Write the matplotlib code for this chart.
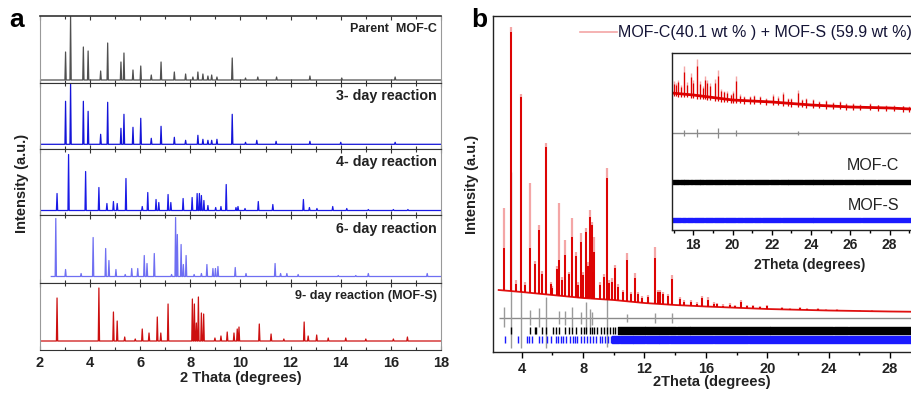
import numpy as np
import matplotlib.pyplot as plt
from matplotlib.ticker import MultipleLocator
from matplotlib.lines import Line2D

plt.rcParams['font.family'] = ['Liberation Sans', 'DejaVu Sans']

W, H = 912, 393

# ---------------- panel a: peak lists ----------------
strip_names = ["Parent  MOF-C", "3- day reaction", "4- day reaction",
               "6- day reaction", "9- day reaction (MOF-S)"]
strip_colors = ["#505050", "#1414d8", "#1a1ae6", "#6f6ff2", "#cc1010"]
strip_start = [2.0, 2.0, 2.0, 2.45, 2.0]
strip_base = [3.0, 4.7, 4.5, 6.5, 9.0]

parent_pos = [3.02, 3.22, 3.73, 3.92, 4.42, 4.70, 5.23, 5.35, 5.71, 6.02, 6.44, 6.83,
              7.36, 7.81, 8.10, 8.30, 8.50, 8.70, 8.85, 9.06, 9.67, 10.20, 10.69,
              11.44, 12.77, 14.04, 16.17]
parent_hts = [28, 64, 33, 29, 9, 37, 18, 27, 10, 14, 5, 18,
              8, 6, 3, 8, 6, 4, 5, 3, 22, 2, 3,
              3, 4, 2, 3]

day3_pos = [3.02, 3.22, 3.73, 3.92, 4.42, 4.70, 5.23, 5.35, 5.71, 6.02, 6.44, 6.83,
            7.36, 7.81, 8.30, 8.50, 8.70, 8.85, 9.06, 9.67, 10.20, 10.65, 11.42,
            12.77, 14.00, 16.17]
day3_hts = [43, 61, 43, 33, 10, 42, 16, 30, 17, 26, 6, 18,
            7, 4, 9, 5, 4, 4, 5, 30, 2, 4, 3,
            3, 2, 2]

day4_pos = [2.68, 3.14, 3.82, 4.35, 4.67, 4.93, 5.08, 5.43, 6.08, 6.30, 6.63, 6.74,
            7.11, 7.22, 7.71, 8.07, 8.27, 8.36, 8.44, 8.54, 8.70, 9.01, 9.22, 9.43,
            9.82, 9.90, 10.18, 10.71, 11.29, 12.51, 12.75, 13.05, 13.68, 14.24,
            15.10, 16.10, 16.68]
day4_hts = [17, 56, 39, 23, 7, 9, 7, 32, 4, 18, 11, 8,
            16, 8, 12, 13, 17, 17, 15, 10, 5, 3, 4, 26,
            3, 4, 2, 9, 6, 11, 3, 2, 4, 2,
            1, 1, 1]

day6_pos = [2.63, 3.02, 3.64, 4.12, 4.62, 4.75, 5.03, 5.40, 5.66, 5.90, 6.16, 6.27,
            6.56, 7.25, 7.41, 7.48, 7.63, 7.72, 7.83, 8.15, 8.44, 8.66, 8.90, 9.00,
            9.10, 9.79, 10.22, 11.38, 11.60, 11.85, 12.30, 13.90, 14.60, 15.10, 17.45]
day6_hts = [58, 7, 3, 39, 28, 16, 7, 2, 8, 8, 21, 13,
            23, 2, 59, 42, 32, 12, 21, 2, 3, 12, 8, 8,
            10, 9, 3, 13, 3, 3, 2, 1, 1, 3, 3]

day9_pos = [2.68, 4.35, 4.93, 5.08, 5.38, 5.80, 6.08, 6.35, 6.68, 6.82, 7.11, 8.08,
            8.16, 8.24, 8.32, 8.44, 8.53, 8.98, 9.22, 9.47, 9.74, 9.87, 9.94, 10.75,
            11.22, 11.73, 12.54, 12.70, 13.04, 13.50, 14.20, 15.00, 16.10, 16.66]
day9_hts = [43, 53, 29, 20, 4, 2, 12, 8, 24, 8, 37, 42,
            37, 18, 44, 28, 27, 3, 5, 9, 8, 12, 14, 17,
            7, 2, 19, 5, 6, 3, 3, 2, 2, 4]

strip_pos = [parent_pos, day3_pos, day4_pos, day6_pos, day9_pos]
strip_hts = [parent_hts, day3_hts, day4_hts, day6_hts, day9_hts]

# ---------------- panel b: refinement ----------------
bg_x = [2.5, 4, 6, 8, 10, 12, 14, 16, 20, 24, 28, 31]
bg_y = [62, 60, 57, 54, 52, 49, 47, 45.5, 43, 41.5, 40.5, 40]

pk_pos = [2.85, 3.32, 3.60, 3.97, 4.20, 4.54, 4.85, 5.13, 5.30, 5.60, 5.91, 6.00,
          6.28, 6.43, 6.60, 6.80, 7.08, 7.28, 7.54, 7.70, 7.88, 8.00, 8.21, 8.35,
          8.45, 8.56, 8.65, 8.73, 9.10, 9.36, 9.58, 9.70, 9.88, 10.10, 10.30, 10.60,
          10.88, 11.10, 11.38, 11.60, 11.86, 12.20, 12.66, 12.90, 13.00, 13.18, 13.50,
          13.81, 14.31, 14.60, 15.00, 15.40, 15.77, 16.16, 16.50, 16.74, 17.10, 17.57,
          17.90, 18.29, 18.70, 19.09, 19.50, 19.96, 20.94, 21.50, 22.13, 22.60, 23.32,
          23.80, 24.52, 25.20, 26.04, 26.80, 27.56, 28.50]
pk_obs = [144, 325, 72, 258, 70, 169, 91, 127, 81, 209, 70, 66,
          86, 149, 75, 112, 80, 134, 100, 70, 119, 80, 124, 90,
          142, 130, 85, 115, 70, 78, 184, 72, 74, 87, 68, 62,
          99, 60, 79, 60, 56, 57, 105, 62, 62, 60, 58,
          77, 55, 52, 52, 50, 56, 55, 50, 49, 48, 49,
          47, 52, 47, 47, 46, 47, 45, 44, 45, 44, 44,
          43, 43, 42, 42, 42, 41.5, 41]
pk_calc = [104, 320, 68, 255, 67, 104, 88, 122, 78, 205, 68, 64,
           83, 92, 72, 97, 78, 115, 96, 67, 110, 77, 120, 86,
           135, 127, 80, 100, 67, 75, 174, 69, 70, 84, 65, 60,
           92, 58, 74, 58, 54, 55, 94, 60, 60, 58, 56,
           73, 53, 50, 50, 48, 54, 52, 48, 48, 46, 47,
           46, 50, 46, 46, 45, 46, 44.5, 43.5, 44, 43.5, 43,
           42.5, 42.5, 41.5, 41.5, 41.5, 41, 40.5]

diff_level = 33.7
diff_pos = [2.85, 3.32, 3.97, 4.54, 5.13, 5.60, 6.43, 6.80, 7.28, 7.88, 8.21,
            8.45, 8.56, 9.58, 10.88, 12.66, 13.81]
diff_hi = [45, 180, 62, 42, 44, 55, 41, 41, 45, 40, 50, 43, 40, 60, 38, 39, 39]
diff_lo = [25, 4, 4, 27, 25, 4, 28, 27, 25, 28, 20, 25, 27, 5, 30, 29, 29]

mofc_pos = [3.32, 4.54, 4.85, 4.93, 5.30, 5.60, 6.06, 6.21, 6.43, 6.80, 7.08, 7.28,
            7.54, 7.88, 8.08, 8.21, 8.45, 8.56, 8.73, 8.88, 9.14, 9.36, 9.58, 9.75,
            9.95, 10.10]
mofc_band = (10.3, 30.6)
mofc_gaps = [12.04, 14.10, 14.96, 20.18, 24.30, 25.28]

mofs_pos = [2.91, 3.78, 4.33, 4.50, 4.65, 5.15, 5.30, 5.67, 5.89, 6.21, 6.38, 6.54,
            6.67, 6.89, 7.15, 7.32, 7.47, 7.62, 7.84, 8.08, 8.23, 8.45, 8.66, 8.84,
            9.10, 9.21, 9.43, 9.64, 9.80]
mofs_band = (9.9, 30.6)
mofs_gaps = [10.35, 11.25, 12.05, 12.95, 13.65, 16.48, 18.76]

# inset (zoom 17-30 deg)
in_bg_x = [16.9, 18, 20, 22, 24, 26, 28, 30.1]
in_bg_y = [137, 135, 130, 128, 125, 123, 122, 120]
in_pos = [17.00, 17.10, 17.25, 17.40, 17.55, 17.70, 17.90, 18.00, 18.20, 18.37, 18.50,
          18.59, 18.70, 18.85, 19.10, 19.27, 19.40, 19.55, 19.70, 19.90, 20.05, 20.20,
          20.40, 20.60, 20.88, 21.10, 21.40, 21.73, 22.07, 22.30, 22.55, 22.80, 23.00,
          23.34, 23.55, 23.76, 24.10, 24.40, 24.78, 25.10, 25.46, 25.80, 26.13, 26.50,
          26.98, 27.40, 27.83, 28.20, 28.68, 29.00, 29.50]
in_hts = [12, 10, 14, 9, 28, 12, 22, 15, 37, 15, 10,
          20, 17, 14, 19, 28, 10, 8, 8, 6, 9, 24,
          6, 5, 5, 6, 5, 4, 8, 6, 11, 5, 6,
          14, 5, 7, 6, 4, 6, 4, 5, 4, 4, 3,
          4, 3, 3, 3, 3, 3, 3]
in_diff_level = 96.7
in_diff_pos = [17.55, 18.20, 19.27, 20.20, 23.34]
in_diff_amp = [3, 4, 5, 3, 2]
in_c_gaps = [17.32, 17.53, 17.83, 18.00, 18.34, 18.59, 19.02, 19.53, 19.70, 20.20,
             20.63, 21.05, 21.90, 22.41, 22.83, 23.60, 24.10, 24.61, 25.12, 25.63,
             26.22, 26.64, 27.32]
in_s_gaps = [17.41, 17.66, 18.00, 18.59, 19.02, 19.61, 20.20, 20.54, 21.05, 21.48,
             22.49, 24.10, 26.55]


def box(l, t, r, b):
    return [l / W, 1 - b / H, (r - l) / W, (b - t) / H]


def profile(pos, hts, base, x0, x1, w=0.025):
    xs, ys = [x0], [base]
    for p, h in sorted(zip(pos, hts)):
        xs += [p - w, p, p + w]
        ys += [base, base + h, base]
    xs.append(x1)
    ys.append(base)
    return xs, ys


def spans(lo, hi, gaps, g=0.05):
    edges = [lo] + list(gaps) + [hi]
    out = []
    for a, b in zip(edges[:-1], edges[1:]):
        s = a + (g / 2 if a != lo else 0)
        e = b - (g / 2 if b != hi else 0)
        out.append((s, e - s))
    return out


fig = plt.figure(figsize=(W / 100, H / 100), dpi=100)

# ---------------- panel a ----------------
edges_px = [16, 83, 149, 215, 283, 350]
label_sizes = [9, 10.3, 10.3, 10.3, 9.1]
for i in range(5):
    t, b = edges_px[i], edges_px[i + 1]
    ax = fig.add_axes(box(40, t, 441, b))
    xs, ys = profile(strip_pos[i], strip_hts[i], strip_base[i], strip_start[i], 18)
    ax.plot(xs, ys, color=strip_colors[i], lw=0.9)
    ax.set_xlim(2, 18)
    ax.set_ylim(0, b - t)
    ax.set_yticks([])
    ax.xaxis.set_major_locator(MultipleLocator(2))
    ax.xaxis.set_minor_locator(MultipleLocator(1))
    ax.tick_params(axis='x', which='both', direction='in', top=True, length=3,
                   width=0.8, colors='#333333')
    ax.tick_params(axis='x', which='minor', length=2)
    for s in ['left', 'right']:
        ax.spines[s].set_color('#999999')
    for s in ['top', 'bottom']:
        ax.spines[s].set_color('#333333')
    ax.spines['top'].set_linewidth(1.2 if i == 0 else 0.8)
    ax.text(0.99, 0.8, strip_names[i], transform=ax.transAxes, ha='right', va='center',
            fontsize=label_sizes[i], fontweight='bold', color='#222222')
    if i < 4:
        ax.set_xticklabels([])
    else:
        ax.tick_params(axis='x', which='major', labelsize=10.5, pad=4,
                       labelcolor='#222222')
        for lb in ax.get_xticklabels():
            lb.set_fontweight('bold')
        ax.set_xlabel("2 Thata (degrees)", fontsize=10.5, fontweight='bold',
                      color='#222222', labelpad=1)

fig.text(22 / W, 1 - 183 / H, "Intensity (a.u.)", rotation=90, ha='center',
         va='center', fontsize=10.5, fontweight='bold', color='#222222')
fig.text(17 / W, 1 - 20 / H, "a", ha='center', va='center', fontsize=19,
         fontweight='bold')

# ---------------- panel b ----------------
axb = fig.add_axes(box(493, 16, 930, 352))
axb.set_xlim(2.13, 30.6)
axb.set_ylim(0, 336)

axb.hlines(diff_level, 2.5, 30.6, color='#8a8a8a', lw=1.0)
axb.vlines(diff_pos, diff_lo, diff_hi, color='#9a9a9a', lw=1.0)

base_pk = np.interp(pk_pos, bg_x, bg_y)
axb.vlines(pk_pos, base_pk, pk_obs, color='#f4a6a6', lw=1.6)
axb.plot(bg_x, bg_y, color='#e01010', lw=1.3)
axb.vlines(pk_pos, base_pk, pk_calc, color='#dd0000', lw=1.4)

axb.vlines(mofc_pos, 18, 24.7, color='black', lw=1.0)
axb.broken_barh(spans(*mofc_band, mofc_gaps), (18, 6.7), color='black')
axb.vlines(mofs_pos, 8.7, 16.3, color='#1a1aff', lw=1.0)
axb.broken_barh(spans(*mofs_band, mofs_gaps), (8.7, 7.6), color='#1a1aff')

axb.set_yticks([])
axb.xaxis.set_major_locator(MultipleLocator(4))
axb.xaxis.set_minor_locator(MultipleLocator(2))
axb.tick_params(axis='x', which='both', direction='out', length=4, width=1.0)
axb.tick_params(axis='x', which='minor', length=2.5)
axb.tick_params(axis='x', labelsize=10.5, pad=3, labelcolor='#222222')
for lb in axb.get_xticklabels():
    lb.set_fontweight('bold')
axb.set_xlabel("2Theta (degrees)", fontsize=10.5, fontweight='bold', color='#222222',
               labelpad=0)
axb.xaxis.set_label_coords((712 - 493) / (930 - 493), -0.068)
for s in ['left', 'top', 'bottom']:
    axb.spines[s].set_color('#222222')
    axb.spines[s].set_linewidth(1.0)

leg_line = Line2D([], [], color='#f4a6a6', lw=1.2)
axb.legend([leg_line], ["MOF-C(40.1 wt % ) + MOF-S (59.9 wt %)"], loc='center left',
           bbox_to_anchor=((580 - 493) / 437, (352 - 33) / 336), frameon=False,
           handlelength=2.3, handletextpad=0.05, borderpad=0, borderaxespad=0,
           prop={'size': 11.5}, labelcolor='#141436')

fig.text(479 / W, 1 - 20 / H, "b", ha='center', va='center', fontsize=19,
         fontweight='bold')
fig.text(472 / W, 1 - 184 / H, "Intensity (a.u.)", rotation=90, ha='center',
         va='center', fontsize=10.5, fontweight='bold', color='#222222')

# ---------------- inset ----------------
axi = fig.add_axes(box(672, 53, 927, 230))
axi.set_zorder(5)
axi.set_xlim(16.92, 29.9)
axi.set_ylim(0, 177)
axi.hlines(in_diff_level, 16.92, 29.9, color='#8a8a8a', lw=1.0)
axi.vlines(in_diff_pos, in_diff_level - np.array(in_diff_amp),
           in_diff_level + np.array(in_diff_amp), color='#8a8a8a', lw=0.9)
in_base = np.interp(in_pos, in_bg_x, in_bg_y)
axi.vlines(in_pos, in_base, in_base + np.array(in_hts), color='#f4a6a6', lw=1.0)
axi.vlines(in_pos, in_base - 3, in_base + 0.8 * np.array(in_hts), color='#dd0000',
           lw=0.9)
axi.plot(in_bg_x, in_bg_y, color='#dd0000', lw=2.0)
axi.broken_barh(spans(16.92, 29.9, in_c_gaps, 0.04), (46, 4), color='black')
axi.broken_barh(spans(16.92, 29.9, in_s_gaps, 0.04), (7.7, 4.3), color='#1a1aff')
axi.text((899 - 672) / 255, (230 - 165) / 177, "MOF-C", transform=axi.transAxes,
         ha='right', va='center', fontsize=11.5, color='#222222')
axi.text((899 - 672) / 255, (230 - 205) / 177, "MOF-S", transform=axi.transAxes,
         ha='right', va='center', fontsize=11.5, color='#222222')
axi.set_yticks([])
axi.xaxis.set_major_locator(MultipleLocator(2))
axi.xaxis.set_minor_locator(MultipleLocator(1))
axi.tick_params(axis='x', which='both', direction='out', length=3.5, width=1.0)
axi.tick_params(axis='x', which='minor', length=2)
axi.tick_params(axis='x', labelsize=10, pad=2, labelcolor='#222222')
for lb in axi.get_xticklabels():
    lb.set_fontweight('bold')
axi.set_xlabel("2Theta (degrees)", fontsize=10, fontweight='bold', color='#222222',
               labelpad=1)
axi.xaxis.set_label_coords((810 - 672) / 255, -0.16)
for s in axi.spines.values():
    s.set_color('#222222')
    s.set_linewidth(1.0)

fig.savefig("out.png", dpi=100)
